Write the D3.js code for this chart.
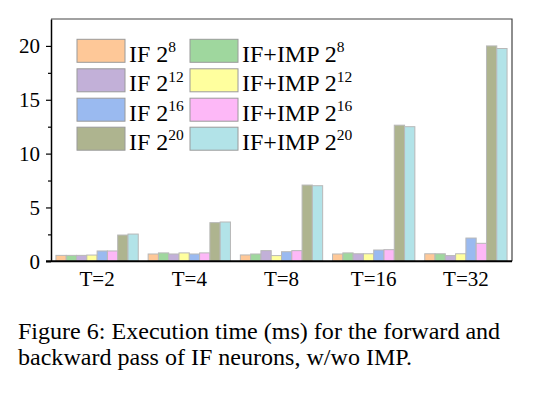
<!DOCTYPE html>
<html><head><meta charset="utf-8">
<script src="https://cdn.jsdelivr.net/npm/d3@7/dist/d3.min.js"></script>
<style>
body{margin:0;background:#fff;}
svg{display:block;font-family:"Liberation Serif","Times New Roman",serif;}
</style></head>
<body><svg id="c" width="559" height="398"></svg>
<script>
const groups = ["T=2","T=4","T=8","T=16","T=32"];
const seriesNames = ["IF 2^8","IF+IMP 2^8","IF 2^12","IF+IMP 2^12","IF 2^16","IF+IMP 2^16","IF 2^20","IF+IMP 2^20"];
const legendBase = ["IF 2","IF+IMP 2","IF 2","IF+IMP 2","IF 2","IF+IMP 2","IF 2","IF+IMP 2"];
const legendExp = ["8","8","12","12","16","16","20","20"];
const colors = ["#FEC898","#9FD79E","#C2B0D8","#FFFF9E","#9ABAF0","#FDB8F7","#AEB48F","#B2E3E8"];
// values[group][series]
const vT2  = [0.55,0.55,0.55,0.58,0.96,0.96,2.44,2.53];
const vT4  = [0.68,0.78,0.68,0.78,0.68,0.78,3.59,3.65];
const vT8  = [0.59,0.68,0.99,0.53,0.89,0.99,7.08,7.02];
const vT16 = [0.68,0.78,0.70,0.70,1.05,1.08,12.64,12.50];
const vT32 = [0.70,0.70,0.53,0.70,2.16,1.67,20.0,19.76];
const values = [vT2,vT4,vT8,vT16,vT32];
const yTicks = [0,5,10,15,20];
const yMinor = [2.5,7.5,12.5,17.5];
const caption = ["Figure 6: Execution time (ms) for the forward and","backward pass of IF neurons, w/wo IMP."];

const svg = d3.select("#c");
const L=51, R=512, T=19, B=261.3;
const x0 = d3.scaleBand().domain(groups).range([L,R]).padding(0);
const x1 = d3.scaleBand().domain(d3.range(8)).range([0,x0.bandwidth()]).paddingInner(0).paddingOuter(0.48);
const y = d3.scaleLinear().domain([0,22.5]).range([B,T]);

// bars
const g = svg.append("g");
groups.forEach((gr,i)=>{
  g.append("g").attr("transform",`translate(${x0(gr)},0)`)
   .selectAll("rect").data(values[i]).join("rect")
   .attr("x",(d,j)=>x1(j)).attr("width",x1.bandwidth())
   .attr("y",d=>y(d)).attr("height",d=>B-y(d))
   .attr("fill",(d,j)=>colors[j]).attr("stroke","#b8b8b8").attr("stroke-width",1);
});

// frame top/right
svg.append("path").attr("d",`M${L},${T}H${R}V${B}`).attr("fill","none").attr("stroke","#444").attr("stroke-width",1.2);

// y axis
const ya = svg.append("g").attr("transform",`translate(${L},0)`)
  .call(d3.axisLeft(y).tickValues(yTicks).tickSize(5).tickPadding(6).tickSizeOuter(0));
ya.select(".domain").attr("stroke","#000").attr("stroke-width",1.5);
ya.selectAll(".tick line").attr("stroke","#000").attr("stroke-width",1.2);
ya.selectAll("text").attr("font-size",21).attr("fill","#000").attr("font-family","Liberation Serif");
const ym = svg.append("g").attr("transform",`translate(${L},0)`)
  .call(d3.axisLeft(y).tickValues(yMinor).tickSize(3).tickFormat(""));
ym.select(".domain").remove();
ym.selectAll(".tick line").attr("stroke","#000").attr("stroke-width",1.2);

// x axis
const xa = svg.append("g").attr("transform",`translate(0,${B})`)
  .call(d3.axisBottom(x0).tickSize(0).tickPadding(10).tickSizeOuter(0));
xa.select(".domain").attr("stroke","#000").attr("stroke-width",2).attr("d",`M${L-5},0H${R}`);
xa.selectAll("text").attr("font-size",21).attr("fill","#000").attr("font-family","Liberation Serif");

// legend
const lg = svg.append("g");
const colX=[77,190], rowY=[39.3,68.8,98.2,127.2];
seriesNames.forEach((s,j)=>{
  const col=j%2, row=Math.floor(j/2);
  const gx=colX[col], gy=rowY[row];
  lg.append("rect").attr("x",gx).attr("y",gy).attr("width",48).attr("height",23)
    .attr("fill",colors[j]).attr("stroke","#9a9a9a").attr("stroke-width",1);
  const t=lg.append("text").attr("x",gx+52).attr("y",gy+22.3).attr("font-size",24).attr("fill","#000");
  t.append("tspan").text(legendBase[j]);
  t.append("tspan").attr("font-size",15.5).attr("dy",-9.5).text(legendExp[j]);
});

// caption
svg.selectAll("text.cap").data(caption).join("text").attr("class","cap")
  .attr("x",18).attr("y",(d,i)=>339+i*26).attr("font-size",24.05).attr("fill","#000").text(d=>d);
</script></body></html>
